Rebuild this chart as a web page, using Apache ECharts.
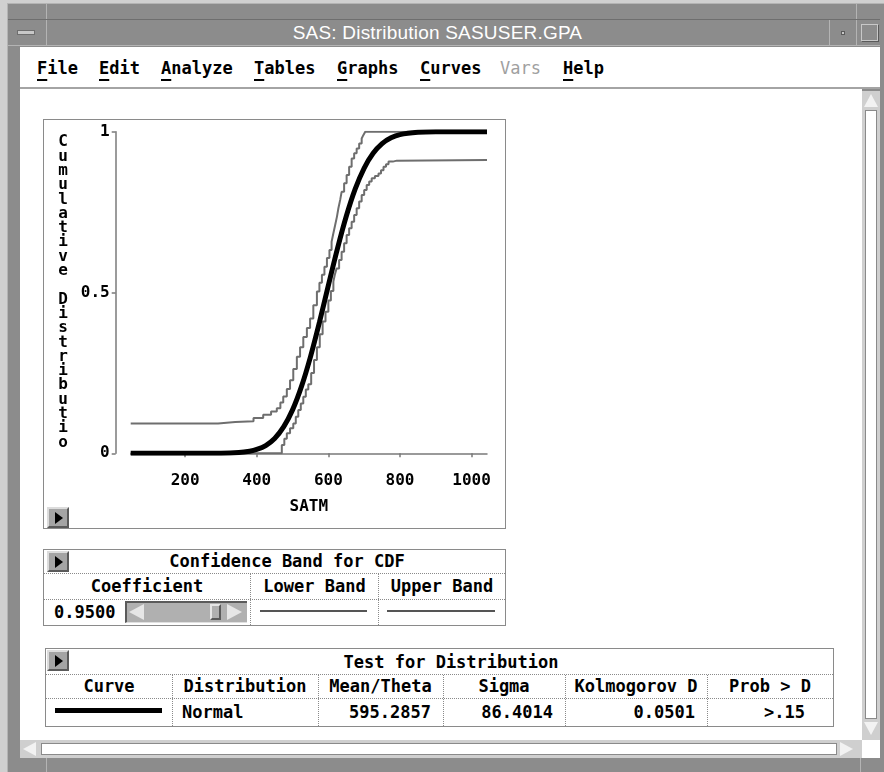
<!DOCTYPE html>
<html>
<head>
<meta charset="utf-8">
<script src="https://cdn.jsdelivr.net/npm/echarts@6/dist/echarts.min.js"></script>
<style>
body{margin:0;width:884px;height:772px;position:relative;overflow:hidden;background:#d0d0d0;font-family:"DejaVu Sans Mono",monospace;font-weight:bold;font-size:17px;color:#000;}
.a{position:absolute;box-sizing:border-box;}
#frame{left:7px;top:3px;width:877px;height:769px;background:#8c8c8c;border-top:1px solid #b4b4b4;border-left:1px solid #b4b4b4;}
.div-v{width:1px;background:#b4b4b4;}
#title{left:8px;top:19px;width:872px;height:27px;background:#8c8c8c;border-top:1px solid #6e6e6e;border-bottom:1px solid #b4b4b4;}
#titleText{left:46px;top:20px;width:783px;height:25px;color:#fff;font:19px "Liberation Sans",sans-serif;text-align:center;line-height:25px;letter-spacing:0.2px;}
#menu{left:20px;top:47px;width:860px;height:42px;background:#fff;border-bottom:2px solid #a4a4a4;}
.mi{position:absolute;top:10px;line-height:22px;}
.mi u{text-decoration:underline;text-decoration-thickness:2px;text-underline-offset:5px;}
#content{left:20px;top:89px;width:842px;height:651px;background:#fff;}
.box{border:1px solid #8a8a8a;background:#fff;}
.btn{width:22px;height:21px;background:#a4a4a4;border-top:2px solid #dcdcdc;border-left:2px solid #dcdcdc;border-right:2px solid #5a5a5a;border-bottom:2px solid #5a5a5a;z-index:5;}
.btn:after{content:"";position:absolute;left:6px;top:3px;border-left:8px solid #000;border-top:6px solid transparent;border-bottom:6px solid transparent;}
.hd{border-bottom:1px dotted #8a8a8a;}
.vd{border-left:1px dotted #8a8a8a;}
.c{text-align:center;white-space:pre;}
.r{text-align:right;white-space:pre;}
.l{text-align:left;white-space:pre;}
.sb{background:#cfcfcf;}
.inner{background:#fff;border:1px solid #8a8a8a;}
</style>
</head>
<body>
<div class="a" id="frame"></div>
<div class="a div-v" style="left:46px;top:3px;height:16px"></div>
<div class="a div-v" style="left:856px;top:3px;height:16px"></div>
<div class="a div-v" style="left:46px;top:758px;height:14px"></div>
<div class="a div-v" style="left:860px;top:758px;height:14px"></div>
<div class="a" id="title"></div>
<div class="a" id="titleText">SAS: Distribution SASUSER.GPA</div>
<div class="a div-v" style="left:46px;top:20px;height:25px"></div>
<div class="a div-v" style="left:829px;top:20px;height:25px"></div>
<div class="a div-v" style="left:856px;top:20px;height:25px"></div>
<div class="a" style="left:17px;top:30px;width:18px;height:5px;background:#c8c8c8;border:1px solid #6e6e6e"></div>
<div class="a" style="left:841px;top:31px;width:4px;height:4px;background:#c8c8c8;border:1px solid #5a5a5a"></div>
<div class="a" style="left:861px;top:24px;width:17px;height:17px;border:1px solid #c8c8c8;box-shadow:1px 1px 0 #5a5a5a"></div>

<div class="a" id="menu">
  <span class="mi" style="left:17px"><u>F</u>ile</span>
  <span class="mi" style="left:79px"><u>E</u>dit</span>
  <span class="mi" style="left:141px"><u>A</u>nalyze</span>
  <span class="mi" style="left:234px"><u>T</u>ables</span>
  <span class="mi" style="left:317px"><u>G</u>raphs</span>
  <span class="mi" style="left:400px"><u>C</u>urves</span>
  <span class="mi" style="left:480px;color:#a0a0a0;font-weight:normal">Vars</span>
  <span class="mi" style="left:543px"><u>H</u>elp</span>
</div>

<div class="a" id="content"></div>

<!-- vertical scrollbar -->
<div class="a sb" style="left:862px;top:91px;width:18px;height:649px"></div>
<div class="a inner" style="left:865px;top:110px;width:12px;height:609px"></div>
<div class="a" style="left:864px;top:94px;border-left:7px solid transparent;border-right:7px solid transparent;border-bottom:13px solid #f2f2f2"></div>
<div class="a" style="left:864px;top:722px;border-left:7px solid transparent;border-right:7px solid transparent;border-top:13px solid #f2f2f2"></div>
<!-- horizontal scrollbar -->
<div class="a sb" style="left:20px;top:740px;width:842px;height:18px"></div>
<div class="a inner" style="left:41px;top:743px;width:796px;height:12px"></div>
<div class="a" style="left:23px;top:742px;border-top:7px solid transparent;border-bottom:7px solid transparent;border-right:13px solid #f2f2f2"></div>
<div class="a" style="left:840px;top:742px;border-top:7px solid transparent;border-bottom:7px solid transparent;border-left:13px solid #f2f2f2"></div>
<div class="a" style="left:862px;top:740px;width:18px;height:18px;background:#fff"></div>

<!-- plot -->
<div class="a box" style="left:43px;top:119px;width:463px;height:410px"></div>
<div class="a" id="cdf" style="left:44px;top:120px;width:461px;height:408px"></div>
<div class="a btn" style="left:47px;top:507px"></div>

<!-- confidence band table -->
<div class="a box" id="bandTable" style="left:43px;top:549px;width:463px;height:77px"></div>
<div class="a btn" style="left:47px;top:551px"></div>
<div class="a hd" style="left:44px;top:573px;width:461px;height:1px"></div>
<div class="a hd" style="left:44px;top:599px;width:461px;height:1px"></div>
<div class="a vd" style="left:250px;top:574px;width:1px;height:51px"></div>
<div class="a vd" style="left:378px;top:574px;width:1px;height:51px"></div>
<div class="a c" id="bandTitle" style="left:68px;top:550px;width:438px;line-height:23px"></div>
<div id="bandHead"></div>
<div class="a l" id="coefText" style="left:54px;top:600px;line-height:25px"></div>
<div class="a" style="left:125px;top:601px;width:122px;height:22px;background:#b0b0b0;border-top:2px solid #5a5a5a;border-left:2px solid #5a5a5a;border-bottom:1px solid #e0e0e0"></div>
<div class="a" style="left:129px;top:604px;border-top:8px solid transparent;border-bottom:8px solid transparent;border-right:15px solid #e6e6e6"></div>
<div class="a" style="left:210px;top:604px;width:11px;height:16px;background:#b0b0b0;border:2px solid #e6e6e6;border-right-color:#5a5a5a;border-bottom-color:#5a5a5a"></div>
<div class="a" style="left:227px;top:604px;border-top:8px solid transparent;border-bottom:8px solid transparent;border-left:15px solid #e6e6e6"></div>
<div class="a" style="left:260px;top:610px;width:107px;height:2px;background:#555"></div>
<div class="a" style="left:387px;top:610px;width:108px;height:2px;background:#555"></div>

<!-- test for distribution table -->
<div class="a box" style="left:45px;top:648px;width:789px;height:79px"></div>
<div class="a btn" style="left:47px;top:650px"></div>
<div class="a hd" style="left:46px;top:674px;width:787px;height:1px"></div>
<div class="a hd" style="left:46px;top:698px;width:787px;height:1px"></div>
<div class="a c" id="testTitle" style="left:68px;top:650px;width:766px;line-height:24px"></div>
<div id="testCells"></div>

<script>
// ---- data ----
var satmTicks = [200, 400, 600, 800, 1000];
var cdfTicks = [0, 0.5, 1];

// fitted normal CDF (thick black curve)
var normX = [48, 300, 350, 380, 400, 425, 450, 475, 500, 525, 550, 575, 600, 625, 650, 675, 700, 725, 750, 775, 800, 850, 900, 1043];
var normY = [0, 0.0003, 0.0023, 0.0065, 0.012, 0.024, 0.046, 0.082, 0.135, 0.208, 0.300, 0.407, 0.522, 0.635, 0.737, 0.822, 0.887, 0.933, 0.963, 0.981, 0.991, 0.998, 0.9998, 1];

// upper confidence band (step)
var upperX = [48, 292, 340, 391, 418, 440, 456, 466, 474, 484, 493, 502, 512, 521, 530, 540, 549, 558, 568, 575, 582, 589, 596, 603, 609, 614, 619, 624, 628, 633, 637, 644, 651, 658, 665, 672, 679, 686, 693, 698, 703, 1043];
var upperY = [0.093, 0.097, 0.100, 0.110, 0.120, 0.130, 0.140, 0.158, 0.177, 0.200, 0.227, 0.262, 0.300, 0.330, 0.362, 0.390, 0.419, 0.460, 0.503, 0.530, 0.555, 0.580, 0.607, 0.632, 0.658, 0.684, 0.710, 0.736, 0.762, 0.788, 0.813, 0.840, 0.865, 0.891, 0.917, 0.933, 0.948, 0.963, 0.979, 0.990, 1.0, 1.0];

// lower confidence band (step)
var lowerX = [48, 470, 477, 484, 493, 502, 509, 516, 523, 530, 537, 544, 552, 560, 568, 576, 584, 592, 600, 607, 614, 618, 623, 630, 637, 644, 651, 658, 665, 672, 679, 686, 693, 700, 707, 714, 721, 730, 740, 747, 754, 761, 768, 780, 791, 1043];
var lowerY = [0, 0.026, 0.045, 0.062, 0.078, 0.093, 0.114, 0.135, 0.155, 0.176, 0.198, 0.215, 0.250, 0.290, 0.330, 0.370, 0.410, 0.440, 0.475, 0.505, 0.534, 0.555, 0.575, 0.601, 0.627, 0.653, 0.679, 0.700, 0.720, 0.741, 0.762, 0.783, 0.803, 0.819, 0.834, 0.845, 0.855, 0.862, 0.870, 0.880, 0.891, 0.899, 0.907, 0.910, 0.912, 0.912];

var yTitle = 'Cumulative Distributio';
var xTitle = 'SATM';

var bandTitle = 'Confidence Band for CDF';
var bandHeaders = ['Coefficient', 'Lower Band', 'Upper Band'];
var coefficient = '0.9500';

var testTitle = 'Test for Distribution';
var testHeaders = ['Curve', 'Distribution', 'Mean/Theta', 'Sigma', 'Kolmogorov D', 'Prob > D'];
var testRow = ['', 'Normal', '595.2857', '86.4014', '0.0501', '>.15'];

function pairs(xs, ys) {
    var out = [];
    for (var i = 0; i < xs.length; i++) out.push([xs[i], ys[i]]);
    return out;
}

// ---- tables ----
document.getElementById('bandTitle').textContent = bandTitle;
document.getElementById('coefText').textContent = coefficient;
document.getElementById('testTitle').textContent = testTitle;

var bandCols = [[44, 250], [251, 378], [379, 505]];
var bh = '';
bandCols.forEach(function (c, i) {
    bh += '<div class="a c" style="left:' + c[0] + 'px;top:574px;width:' + (c[1] - c[0]) + 'px;line-height:25px">' + bandHeaders[i] + '</div>';
});
document.getElementById('bandHead').innerHTML = bh;

var testCols = [[46, 172], [172, 318], [318, 443], [443, 565], [565, 707], [707, 833]];
var th = '';
testCols.forEach(function (c, i) {
    if (i > 0) th += '<div class="a vd" style="left:' + c[0] + 'px;top:675px;width:1px;height:51px"></div>';
    th += '<div class="a c" style="left:' + c[0] + 'px;top:675px;width:' + (c[1] - c[0]) + 'px;line-height:23px">' + testHeaders[i].replace('>', '&gt;') + '</div>';
});
// data row
th += '<div class="a" style="left:55px;top:708px;width:107px;height:5px;background:#000"></div>';
th += '<div class="a l" style="left:182px;top:699px;line-height:27px">' + testRow[1] + '</div>';
var rightEdges = [0, 0, 431, 553, 695, 805];
for (var k = 2; k < testRow.length; k++) {
    th += '<div class="a r" style="left:' + (rightEdges[k] - 120) + 'px;top:699px;width:120px;line-height:27px">' + testRow[k].replace('>', '&gt;') + '</div>';
}
document.getElementById('testCells').innerHTML = th;

// ---- chart ----
var chart = echarts.init(document.getElementById('cdf'), null, {renderer: 'canvas'});
var labelFont = {fontFamily: 'DejaVu Sans Mono', fontWeight: 'bold', fontSize: 16, color: '#000'};
var axisGray = '#7a7a7a';

var option = {
    animation: false,
    backgroundColor: 'transparent',
    grid: {left: 86.7, top: 11.7, right: 18, bottom: 74.7, outerBoundsMode: 'none'},
    xAxis: {
        type: 'value',
        min: 48,
        max: 1043,
        offset: 13,
        splitLine: {show: false},
        axisLine: {lineStyle: {color: axisGray, width: 1.5}},
        axisTick: {show: true, length: 4, lineStyle: {color: axisGray, width: 1.5}, customValues: satmTicks},
        axisLabel: Object.assign({margin: 7, customValues: satmTicks, formatter: function (v) { return String(v); }}, labelFont),
        name: xTitle,
        nameLocation: 'middle',
        nameGap: 33,
        nameTextStyle: Object.assign({}, labelFont)
    },
    yAxis: {
        type: 'value',
        min: 0,
        max: 1,
        offset: 15,
        splitLine: {show: false},
        axisLine: {show: true, lineStyle: {color: axisGray, width: 1.5}},
        axisTick: {show: true, length: 4, lineStyle: {color: axisGray, width: 1.5}, customValues: cdfTicks},
        axisLabel: Object.assign({margin: 6, customValues: cdfTicks}, labelFont)
    },
    graphic: [{
        type: 'text',
        style: {
            x: 19,
            y: 15,
            text: yTitle.split('').join('\n'),
            textAlign: 'center',
            textVerticalAlign: 'top',
            font: 'bold 16px "DejaVu Sans Mono"',
            lineHeight: 14.3,
            fill: '#000'
        }
    }],
    series: [
        {
            name: 'Upper Band',
            type: 'line',
            step: 'end',
            data: pairs(upperX, upperY),
            symbol: 'none',
            lineStyle: {color: '#6e6e6e', width: 2},
            z: 2
        },
        {
            name: 'Lower Band',
            type: 'line',
            step: 'end',
            data: pairs(lowerX, lowerY),
            symbol: 'none',
            lineStyle: {color: '#6e6e6e', width: 2},
            z: 2
        },
        {
            name: 'Normal',
            type: 'line',
            smooth: 0.3,
            data: pairs(normX, normY),
            symbol: 'none',
            lineStyle: {color: '#000', width: 5},
            z: 3
        }
    ]
};
chart.setOption(option);
</script>
</body>
</html>
